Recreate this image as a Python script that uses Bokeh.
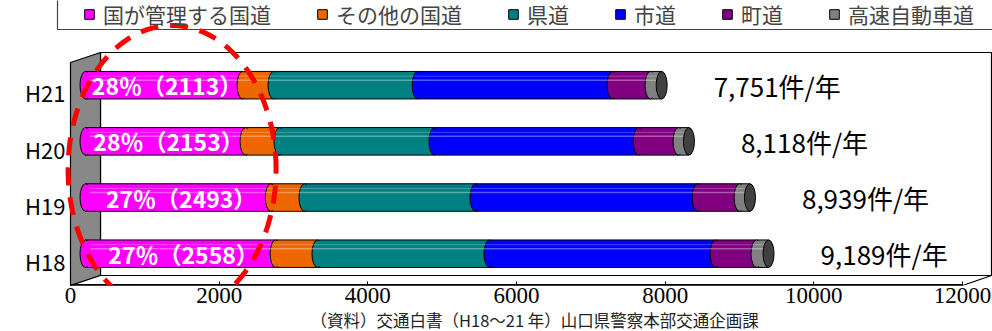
import numpy as np
from bokeh.plotting import figure
from bokeh.models import (Range1d, FixedTicker, Legend, LegendItem, Title,
                          PolyAnnotation)
from bokeh.core.properties import value
from bokeh.embed import file_html
from bokeh.resources import INLINE

# ---------------- data ----------------
categories = ["H18", "H19", "H20", "H21"]
managed_national = [2558, 2493, 2153, 2113]   # 国が管理する国道
other_national = [563, 453, 457, 417]          # その他の国道
prefectural = [2314, 2301, 2085, 1938]         # 県道
city = [3041, 2987, 2745, 2622]                # 市道
town = [551, 565, 538, 511]                    # 町道
expressway = [162, 140, 140, 150]              # 高速自動車道
totals = [9189, 8939, 8118, 7751]
managed_share = [27, 27, 28, 28]
series_names = ["国が管理する国道", "その他の国道", "県道", "市道", "町道", "高速自動車道"]
series_colors = ["#FF00FF", "#EE6600", "#008080", "#0000FF", "#800080", "#808080"]
x_ticks = [0, 2000, 4000, 6000, 8000, 10000, 12000]
source_note = "（資料）交通白書（H18～21 年）山口県警察本部交通企画課"

FONT = "Noto Sans CJK JP"
W, H = 992, 331
FRAME_BOTTOM = 285
X0, X12 = 70, 962                      # pixel of 0 and 12000 on the front edge
K = (X12 - X0) / 12000.0               # px per unit
U = 56.17                              # px per category step
LAB0 = 260.5                           # pixel y of first category label


def X(px):
    return (px - X0) / K


def Y(py):
    return (LAB0 - py) / U


p = figure(width=W, height=H, output_backend="svg", toolbar_location=None,
           x_range=Range1d(X(0), X(W)), y_range=Range1d(Y(FRAME_BOTTOM), Y(0)),
           min_border_left=0, min_border_right=0, min_border_top=0,
           min_border_bottom=H - FRAME_BOTTOM)
p.outline_line_color = None
p.xgrid.visible = False
p.ygrid.visible = False
p.yaxis.visible = False
p.background_fill_color = "white"
p.border_fill_color = "white"

# bars sit a little deeper in the 3-D box: shifted range
BAR_SHIFT = 15 / K
p.extra_x_ranges = {"bars": Range1d(X(0) - BAR_SHIFT, X(W) - BAR_SHIFT)}

# ---------------- 3-D box decorations ----------------
p.patch([X(57), X(1000), X(1000), X(57)], [Y(-5), Y(-5), Y(29), Y(29)],
        fill_color="white", line_color="#444444", line_width=1.2)
p.patch([X(100), X(991), X(991), X(100)], [Y(52), Y(52), Y(275), Y(275)],
        fill_color="white", line_color="black", line_width=1.2)
p.patch([X(70), X(100), X(100), X(70)], [Y(62), Y(52), Y(275), Y(285)],
        fill_color="#888888", line_color="black", line_width=1.2)
p.patch([X(70), X(962), X(991), X(100)], [Y(285), Y(285), Y(275), Y(275)],
        fill_color="white", line_color="black", line_width=1.2)
p.segment(x0=[X(70)], x1=[X(962)], y0=[Y(284.5)], y1=[Y(284.5)],
          line_color="black", line_width=2)

# ---------------- bars ----------------
idx = np.arange(len(categories), dtype=float)
BAR_DY = 7.3 / U
ys = idx + BAR_DY
BAR_H = 27.5 / U
series = [managed_national, other_national, prefectural, city, town, expressway]
left = np.zeros(len(categories))
legend_items = []
for name, col, vals in zip(series_names, series_colors, series):
    right = left + np.array(vals, dtype=float)
    r_out = p.hbar(y=ys, left=left, right=right, height=BAR_H, fill_color=col,
                   line_color="black", line_width=1, x_range_name="bars")
    p.ellipse(x=left, y=ys, width=11, width_units="screen", height=BAR_H,
              fill_color=col, line_color="black", line_width=1, x_range_name="bars")
    p.hbar(y=ys, left=left, right=right, height=BAR_H - 2.2 / U, fill_color=col,
           line_color=None, x_range_name="bars")
    legend_items.append(LegendItem(label=name, renderers=[r_out]))
    left = right
# subtle highlight stripes
p.segment(x0=np.zeros(len(categories)) + 60, x1=left, y0=ys + 5 / U, y1=ys + 5 / U,
          line_color="white", line_alpha=0.35, line_width=1.5, x_range_name="bars")
p.segment(x0=np.zeros(len(categories)) + 60, x1=left, y0=ys + 9 / U, y1=ys + 9 / U,
          line_color="white", line_alpha=0.25, line_width=1, x_range_name="bars")
# end caps
p.ellipse(x=left, y=ys, width=11, width_units="screen", height=BAR_H,
          fill_color="#404040", line_color="black", line_width=1, x_range_name="bars")

# share labels in the magenta part
share_text = [f"{s}％（{v}）" for s, v in zip(managed_share, managed_national)]
p.text(x=np.array(managed_national) / 2.0, y=ys, text=share_text, x_range_name="bars",
       x_offset=3, text_color="white", text_font=value(FONT), text_font_style="bold",
       text_font_size="23px", text_align="center", text_baseline="middle")

# totals
total_text = [f"{t:,}件/年" for t in totals]
p.text(x=totals, y=ys, text=total_text, x_range_name="bars", x_offset=52,
       text_color="black", text_font=value(FONT), text_font_size="26px",
       text_align="left", text_baseline="middle")

# category labels
p.text(x=[X(65)] * len(categories), y=idx, text=categories,
       text_color="black", text_font=value(FONT), text_font_size="22px",
       text_align="right", text_baseline="middle")

# ---------------- x axis ----------------
ax = p.xaxis[0]
ax.ticker = FixedTicker(ticks=x_ticks)
ax.axis_line_color = None
ax.major_tick_in = 4
ax.major_tick_out = 0
ax.major_tick_line_color = "black"
ax.minor_tick_line_color = None
ax.major_label_text_font = "Liberation Sans Narrow"
ax.major_label_text_font_size = "23px"
ax.major_label_text_color = "black"
ax.major_label_standoff = 2

# source note below the axis
p.add_layout(Title(text=source_note, align="left", offset=310, standoff=0,
                   text_font=FONT, text_font_size="16.5px", text_font_style="normal",
                   text_color="#222222"), "below")

# ---------------- legend ----------------
legend = Legend(items=legend_items, orientation="horizontal",
                location=(83, FRAME_BOTTOM - 29), padding=0, margin=0,
                spacing=45, label_standoff=8, glyph_width=12, glyph_height=12,
                label_text_font=FONT, label_text_font_size="21px",
                border_line_color=None, background_fill_alpha=0)
p.add_layout(legend, "center")

# ---------------- highlight ellipse ----------------
cx = BAR_SHIFT + np.mean(managed_national) / 2.0
cy = float(np.mean(ys))
t = np.linspace(0, 2 * np.pi, 241)
ex = cx + (104 / K) * np.cos(t)
ey = cy + (144 / U) * np.sin(t)
p.add_layout(PolyAnnotation(xs=list(ex), ys=list(ey), fill_alpha=0,
                            line_color="red", line_alpha=1.0, line_width=5,
                            line_dash="18 12"))

open("out.html", "w").write(file_html(p, INLINE))
